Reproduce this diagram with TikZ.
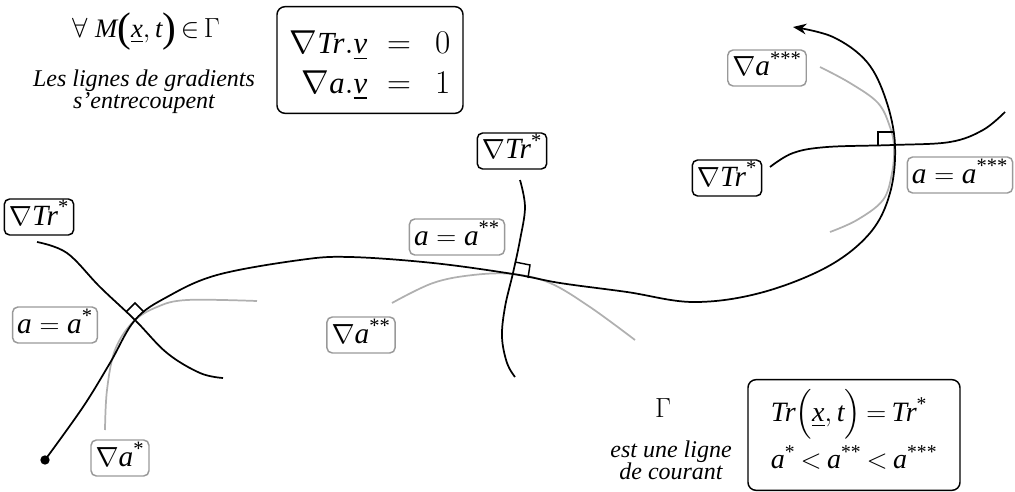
\documentclass[tikz,border=0pt]{standalone}
\usepackage{amsmath}
\usepackage{fontspec}
\setmainfont{Liberation Serif}
\usetikzlibrary{arrows.meta}
\newcommand\mi[1]{\textit{#1}}
\newcommand\st[1]{^{\text{#1}}}
\newcommand\tparen[1]{\mathopen{\raisebox{-3.5pt}{\fontsize{31}{31}\selectfont #1}}}
\newcommand\tcparen[1]{\mathclose{\raisebox{-3.5pt}{\fontsize{31}{31}\selectfont #1}}}
\definecolor{lgray}{HTML}{B0B0B0}
\definecolor{bgray}{HTML}{999999}
\begin{document}
\begin{tikzpicture}[x=0.75pt,y=-0.75pt,
  tag/.style={draw=black, line width=1.1pt, rounded corners=4pt, inner xsep=3.5pt, inner ysep=3.5pt,
    font=\fontsize{22}{26}\selectfont, text height=16pt, text depth=4pt},
  gtag/.style={tag, draw=bgray},
  bigbox/.style={draw=black, line width=1.1pt, rounded corners=6pt, font=\fontsize{20}{24}\selectfont},
  curve/.style={line width=1.3pt, black},
  gcurve/.style={line width=1.3pt, lgray},
  rightang/.style={line width=1.1pt, black},
  itext/.style={font=\fontsize{18}{16.5}\selectfont\itshape, align=center},
  mtext/.style={font=\fontsize{20}{24}\selectfont}]
\useasboundingbox (0,0) rectangle (1015,492);

% texts
\node[mtext, inner sep=0pt] (forall) at (146,32) {$\forall\;\mi{M}\tparen{(}\underline{\mi{x}},\mi{t}\tcparen{)}\mathrel{\mkern-2mu\in\mkern-2mu}\Gamma$};
\node[itext] (lignes) at (144,92) {Les lignes de gradients\\s'entrecoupent};
\node[bigbox, minimum width=139.5pt, minimum height=80pt, font=\fontsize{23}{27}\selectfont] (eqs) at (370,60)
  {\raisebox{-4pt}[\height][\depth]{\renewcommand\arraystretch{1.1}$\begin{array}{r@{\hspace{15pt}}c@{\hspace{18pt}}l}
   \nabla\mi{Tr}.\underline{\mi{v}} & = & 0\\
   \nabla\mi{a}.\underline{\mi{v}} & = & 1
   \end{array}$}};
\node[mtext] (gam) at (663,408) {$\Gamma$};
\node[itext] (courant) at (671,460) {est une ligne\\de courant};
\node[bigbox, minimum width=159pt, minimum height=83pt, font=\fontsize{21}{31}\selectfont] (cond) at (854,435)
  {\thickmuskip=3.5mu\begin{tabular}{@{}l@{}}
   $\mi{Tr}\Bigl(\underline{\mi{x}},\mi{t}\Bigr)=\mi{Tr}\st{*}$\\
   $\mi{a}\st{*}<\mi{a}\st{**}<\mi{a}\st{***}$
   \end{tabular}};

% labels
\node[tag] (tr1) at (39,217) {$\nabla\mi{Tr}\st{*}$};
\node[tag] (tr2) at (512,151) {$\nabla\mi{Tr}\st{*}$};
\node[tag] (tr3) at (727,178) {$\nabla\mi{Tr}\st{*}$};
\node[gtag] (aa1) at (55,325) {$\mi{a}=\mi{a}\st{*}$};
\node[gtag] (aa2) at (457,237) {$\mi{a}=\mi{a}\st{**}$};
\node[gtag] (aa3) at (960,175) {$\mi{a}=\mi{a}\st{***}$};
\node[gtag] (ga1) at (120,458) {$\nabla\mi{a}\st{*}$};
\node[gtag] (ga2) at (361,335) {$\nabla\mi{a}\st{**}$};
\node[gtag] (ga3) at (767,68) {$\nabla\mi{a}\st{***}$};

% gray gradient lines of a
\draw[gcurve] plot[smooth, tension=0.6] coordinates {(105,430) (107,390) (115,350) (133,322) (157,307) (187,300) (257,301)};
\draw[gcurve] plot[smooth, tension=0.6] coordinates {(392,303) (433,283) (473,275) (513,274) (550,283) (590,307) (635,340)};
\draw[gcurve] plot[smooth, tension=0.6] coordinates {(820,67) (850,83) (878,103) (890,127) (894,147) (892,173) (883,200) (857,220) (830,232)};

% isolines Tr*
\draw[curve] plot[smooth, tension=0.6] coordinates {(37,242) (67,253) (100,287) (135,320) (167,353) (200,373) (223,378)};
\draw[curve] plot[smooth, tension=0.6] coordinates {(520,180) (525,207) (520,240) (513,273) (505,307) (502,337) (507,363) (515,377)};
\draw[curve] plot[smooth, tension=0.6] coordinates {(770,167) (793,153) (827,147) (893,145) (950,142) (983,130) (1005,112)};

% streamline Gamma
\coordinate (start) at (45,460);
\fill (start) circle [radius=3.5pt];
\draw[curve, -{Stealth[length=10pt,width=8pt]}] plot[smooth, tension=0.6] coordinates {
  (45,460) (83,407) (110,363) (135,320) (167,297) (217,275) (300,260) (350,257) (433,263) (513,274)
  (560,283) (627,292) (693,302) (760,293) (827,267) (870,233) (890,193) (895,145) (886,100) (867,62) (833,37) (793,27)};

% right angles
\coordinate (x1) at (135,321);
\coordinate (x2) at (513,273);
\coordinate (x3) at (894,145);
\draw[rightang] (x1) ++(-9,-9) -- ++(9,-9) -- ++(9,9);
\draw[rightang] (515,262) -- (530,265) -- (528,278);
\draw[rightang] (878,145) -- (878,132) -- (894,132);
\end{tikzpicture}
\end{document}
